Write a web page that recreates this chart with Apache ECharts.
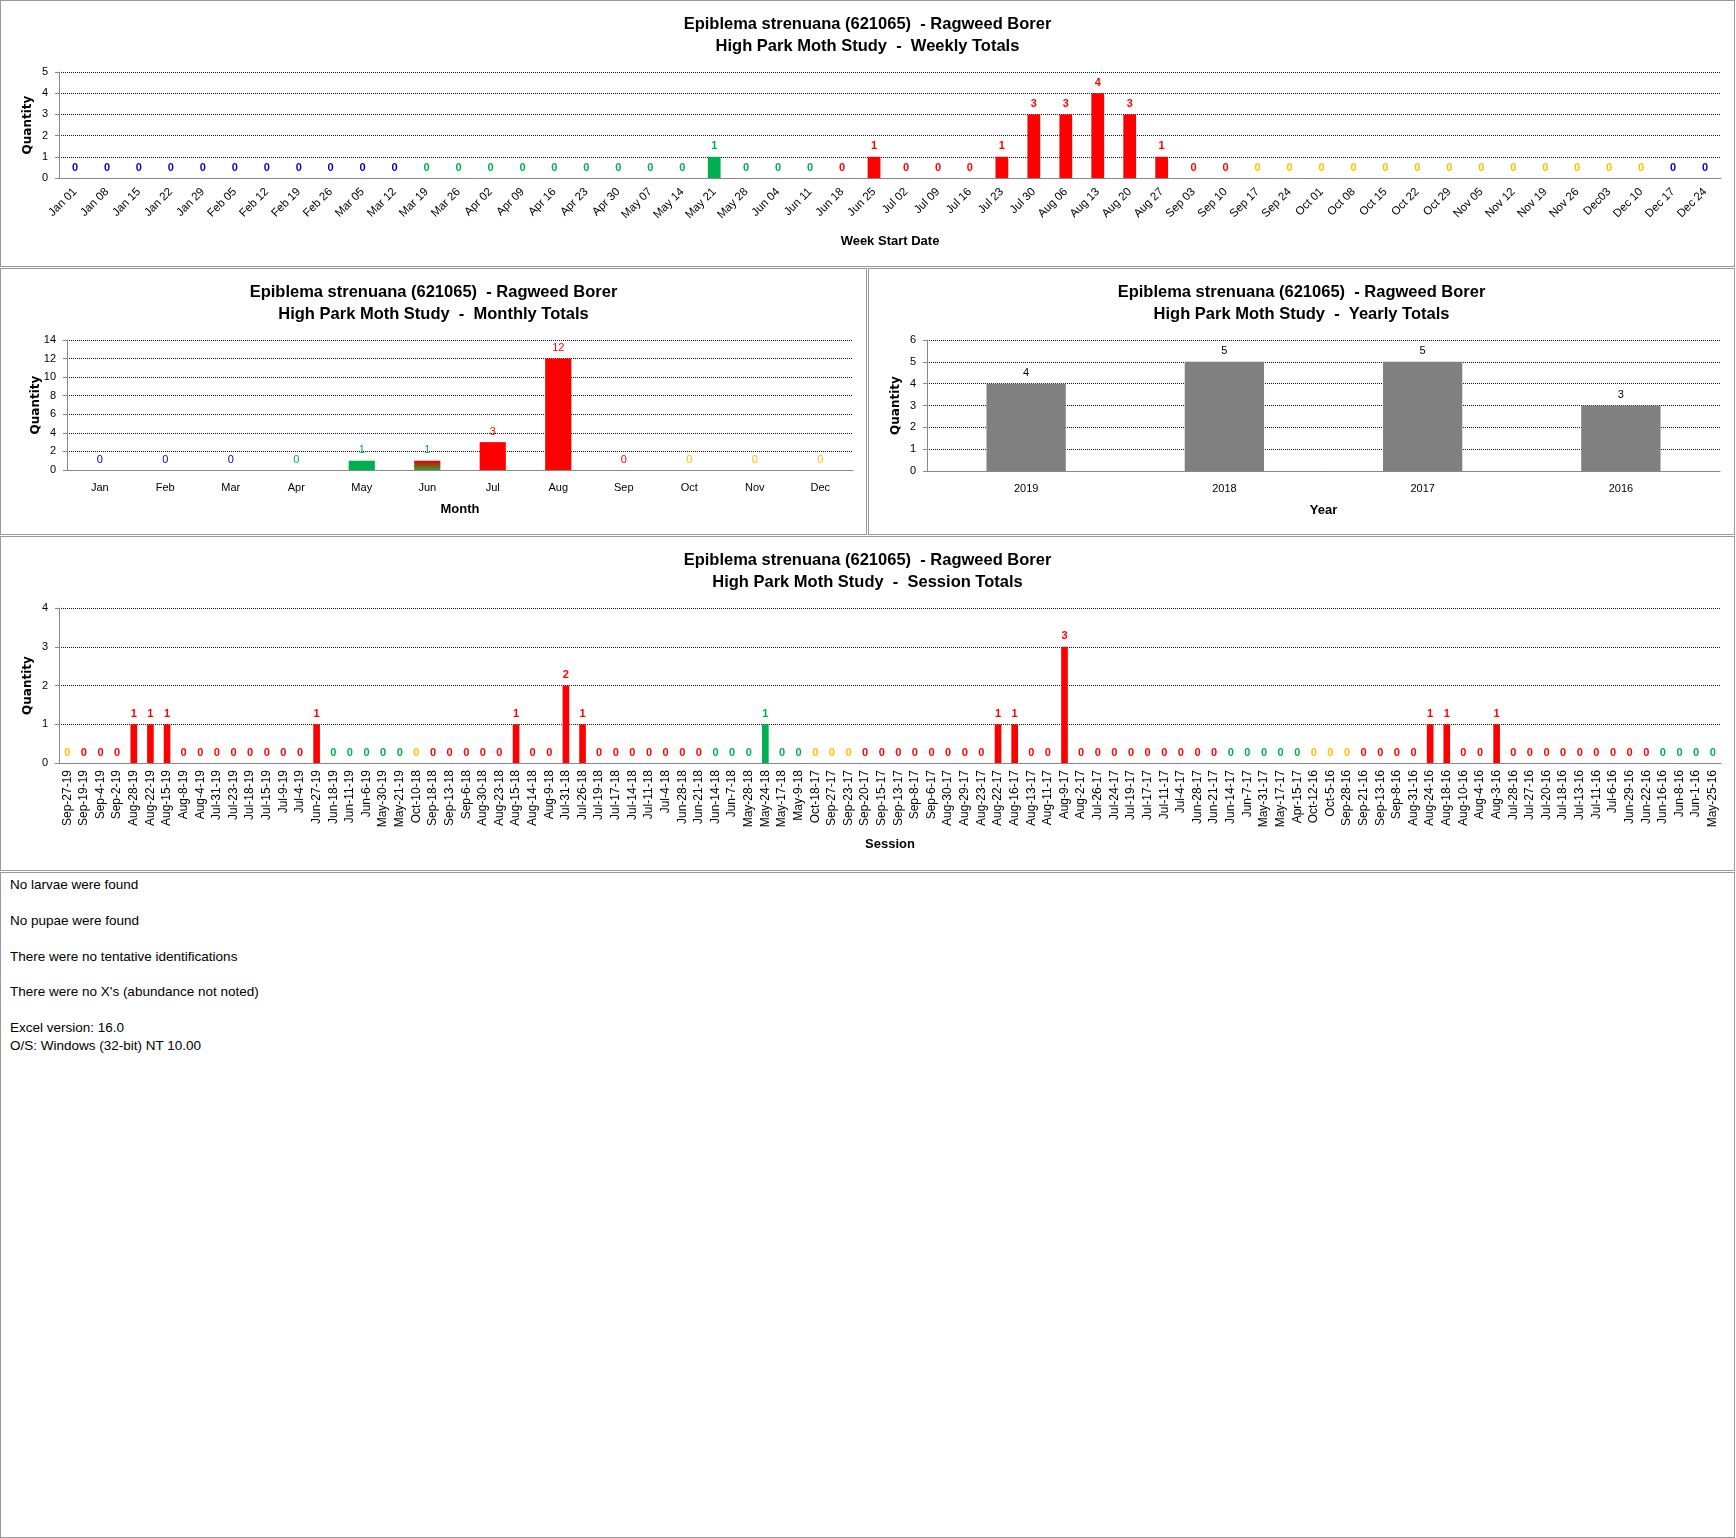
<!DOCTYPE html>
<html>
<head>
<meta charset="utf-8">
<title>Epiblema strenuana - Ragweed Borer</title>
<script src="https://cdn.jsdelivr.net/npm/echarts@6/dist/echarts.min.js"></script>
<style>
  body { margin: 0; background: #fff; }
  #page { position: relative; width: 1736px; height: 1538px; }
  .panel { position: absolute; box-sizing: border-box; border: 1px solid #999; background: #fff; }
  #notes { font: 13.5px 'Liberation Sans', Arial, sans-serif; color: #000; padding: 3px 0 0 9px; line-height: 17.9px; }
</style>
</head>
<body>
<div id="page">
  <div class="panel" id="weekly" style="left:0;top:0;width:1735px;height:267px"></div>
  <div class="panel" id="monthly" style="left:0;top:268px;width:867px;height:267px"></div>
  <div class="panel" id="yearly" style="left:868px;top:268px;width:867px;height:267px"></div>
  <div class="panel" id="session" style="left:0;top:536px;width:1735px;height:335px"></div>
  <div class="panel" id="notes" style="left:0;top:872px;width:1735px;height:666px">
    <div>No larvae were found</div><div>&nbsp;</div>
    <div>No pupae were found</div><div>&nbsp;</div>
    <div>There were no tentative identifications</div><div>&nbsp;</div>
    <div>There were no X's (abundance not noted)</div><div>&nbsp;</div>
    <div>Excel version: 16.0</div>
    <div>O/S: Windows (32-bit) NT 10.00</div>
  </div>
</div>
<script>
// ---- data ----
const TITLE = 'Epiblema strenuana (621065)  - Ragweed Borer';

// season codes: W winter, P spring, S summer, F fall
const weekLabels = ['Jan 01','Jan 08','Jan 15','Jan 22','Jan 29','Feb 05','Feb 12','Feb 19','Feb 26','Mar 05','Mar 12',
  'Mar 19','Mar 26','Apr 02','Apr 09','Apr 16','Apr 23','Apr 30','May 07','May 14','May 21','May 28','Jun 04','Jun 11',
  'Jun 18','Jun 25','Jul 02','Jul 09','Jul 16','Jul 23','Jul 30','Aug 06','Aug 13','Aug 20','Aug 27','Sep 03','Sep 10',
  'Sep 17','Sep 24','Oct 01','Oct 08','Oct 15','Oct 22','Oct 29','Nov 05','Nov 12','Nov 19','Nov 26','Dec03','Dec 10',
  'Dec 17','Dec 24'];
const weekValues = [0,0,0,0,0,0,0,0,0,0,0,
  0,0,0,0,0,0,0,0,0,1,0,0,0,
  0,1,0,0,0,1,3,3,4,3,1,0,0,
  0,0,0,0,0,0,0,0,0,0,0,0,0,
  0,0];
const weekSeason = ['W','W','W','W','W','W','W','W','W','W','W',
  'P','P','P','P','P','P','P','P','P','P','P','P','P',
  'S','S','S','S','S','S','S','S','S','S','S','S','S',
  'F','F','F','F','F','F','F','F','F','F','F','F','F',
  'W','W'];

const monthLabels = ['Jan','Feb','Mar','Apr','May','Jun','Jul','Aug','Sep','Oct','Nov','Dec'];
const monthValues = [0,0,0,0,1,1,3,12,0,0,0,0];
const monthSeason = ['W','W','W','P','P','P','S','S','S','F','F','F'];
const monthBarSeason = ['W','W','W','P','P','PS','S','S','S','F','F','F'];

const yearLabels = ['2019','2018','2017','2016'];
const yearValues = [4,5,5,3];

const sessionLabels = [
  'Sep-27-19','Sep-19-19','Sep-4-19','Sep-2-19','Aug-28-19','Aug-22-19','Aug-15-19','Aug-8-19','Aug-4-19','Jul-31-19',
  'Jul-23-19','Jul-18-19','Jul-15-19','Jul-9-19','Jul-4-19','Jun-27-19','Jun-18-19','Jun-11-19','Jun-6-19','May-30-19',
  'May-21-19',
  'Oct-10-18','Sep-18-18','Sep-13-18','Sep-6-18','Aug-30-18','Aug-23-18','Aug-15-18','Aug-14-18','Aug-9-18','Jul-31-18',
  'Jul-26-18','Jul-19-18','Jul-17-18','Jul-14-18','Jul-11-18','Jul-4-18','Jun-28-18','Jun-21-18','Jun-14-18','Jun-7-18',
  'May-28-18','May-24-18','May-17-18','May-9-18',
  'Oct-18-17','Sep-27-17','Sep-23-17','Sep-20-17','Sep-15-17','Sep-13-17','Sep-8-17','Sep-6-17','Aug-30-17','Aug-29-17',
  'Aug-23-17','Aug-22-17','Aug-16-17','Aug-13-17','Aug-11-17','Aug-9-17','Aug-2-17','Jul-26-17','Jul-24-17','Jul-19-17',
  'Jul-17-17','Jul-11-17','Jul-4-17','Jun-28-17','Jun-21-17','Jun-14-17','Jun-7-17','May-31-17','May-17-17','Apr-15-17',
  'Oct-12-16','Oct-5-16','Sep-28-16','Sep-21-16','Sep-13-16','Sep-8-16','Aug-31-16','Aug-24-16','Aug-18-16','Aug-10-16',
  'Aug-4-16','Aug-3-16','Jul-28-16','Jul-27-16','Jul-20-16','Jul-18-16','Jul-13-16','Jul-11-16','Jul-6-16','Jun-29-16',
  'Jun-22-16','Jun-16-16','Jun-8-16','Jun-1-16','May-25-16'];
const sessionValues = [
  0,0,0,0,1,1,1,0,0,0, 0,0,0,0,0,1,0,0,0,0, 0,
  0,0,0,0,0,0,1,0,0,2, 1,0,0,0,0,0,0,0,0,0, 0,1,0,0,
  0,0,0,0,0,0,0,0,0,0, 0,1,1,0,0,3,0,0,0,0, 0,0,0,0,0,0,0,0,0,0,
  0,0,0,0,0,0,0,1,1,0, 0,1,0,0,0,0,0,0,0,0, 0,0,0,0,0];
const sessionSeason = [
  'F','S','S','S','S','S','S','S','S','S', 'S','S','S','S','S','S','P','P','P','P', 'P',
  'F','S','S','S','S','S','S','S','S','S', 'S','S','S','S','S','S','S','S','P','P', 'P','P','P','P',
  'F','F','F','S','S','S','S','S','S','S', 'S','S','S','S','S','S','S','S','S','S', 'S','S','S','S','S','P','P','P','P','P',
  'F','F','F','S','S','S','S','S','S','S', 'S','S','S','S','S','S','S','S','S','S', 'S','P','P','P','P'];

// ---- style ----
const FONT = "'Liberation Sans', Arial, sans-serif";
const GREEN = '#00B050', RED = '#FF0000', GOLD = '#FFC000';
const fills = {
  W: '#0000FF', P: GREEN, S: RED, F: GOLD,
  PS: new echarts.graphic.LinearGradient(0, 0, 0, 1, [
    { offset: 0, color: '#E00000' }, { offset: 1, color: '#3A9E32' },
  ]),
};
const inks = { W: '#0000CC', P: GREEN, S: RED, F: GOLD };

function seasonBars(values, seasons, barSeasons) {
  return values.map((v, i) => ({
    value: v,
    itemStyle: { color: fills[barSeasons[i]] },
    label: { color: inks[seasons[i]] },
  }));
}

function panelOption(o) {
  return {
    animation: false,
    title: {
      text: TITLE + '\nHigh Park Moth Study  -  ' + o.title,
      left: 'center', top: 7,
      textStyle: { fontFamily: FONT, fontSize: 16.5, fontWeight: 'bold', color: '#000', lineHeight: 22.5 },
    },
    grid: Object.assign({ containLabel: false, outerBoundsMode: 'none' }, o.grid),
    xAxis: {
      type: 'category', data: o.cats,
      name: o.xName, nameLocation: 'middle', nameGap: o.xNameGap, nameMoveOverlap: false,
      nameTextStyle: { fontFamily: FONT, fontSize: 13, fontWeight: 'bold', color: '#000' },
      axisLine: { lineStyle: { color: '#888' } },
      axisTick: { length: 5, lineStyle: { color: '#888' } },
      axisLabel: { interval: 0, rotate: o.rotate || 0, margin: o.labelMargin, hideOverlap: false,
        fontFamily: FONT, fontSize: o.labelSize || 11, color: '#000' },
    },
    yAxis: {
      type: 'value', min: 0, max: o.max, interval: o.step,
      name: 'Quantity', nameLocation: 'middle', nameGap: 25, nameMoveOverlap: false,
      nameTextStyle: { fontFamily: 'DejaVu Sans', fontSize: 12, fontWeight: 'bold', color: '#000' },
      axisLine: { show: true, lineStyle: { color: '#888' } },
      axisTick: { show: true, length: 4, lineStyle: { color: '#888' } },
      axisLabel: { margin: 11, fontFamily: FONT, fontSize: 11, color: '#000' },
      splitLine: { lineStyle: { color: '#111', type: 'dotted' } },
    },
    series: [{
      type: 'bar', barWidth: '40%', data: o.data,
      label: { show: true, position: 'top', distance: 5, fontFamily: FONT, fontSize: 11,
        fontWeight: o.labelWeight || 'bold' },
    }],
  };
}

const weekly = echarts.init(document.getElementById('weekly'));
weekly.setOption(panelOption({
  title: 'Weekly Totals', cats: weekLabels, max: 5, step: 1,
  grid: { left: 58, right: 13, top: 71, bottom: 88 },
  xName: 'Week Start Date', xNameGap: 57, rotate: 45, labelMargin: 12, labelSize: 11.5,
  data: seasonBars(weekValues, weekSeason, weekSeason),
}));

const monthly = echarts.init(document.getElementById('monthly'));
monthly.setOption(panelOption({
  title: 'Monthly Totals', cats: monthLabels, max: 14, step: 2,
  grid: { left: 66, right: 13, top: 71, bottom: 64 },
  xName: 'Month', xNameGap: 33, labelMargin: 12, labelWeight: 'normal',
  data: seasonBars(monthValues, monthSeason, monthBarSeason),
}));

const yearly = echarts.init(document.getElementById('yearly'));
yearly.setOption(panelOption({
  title: 'Yearly Totals', cats: yearLabels, max: 6, step: 1,
  grid: { left: 58, right: 14, top: 71, bottom: 63 },
  xName: 'Year', xNameGap: 33, labelMargin: 12, labelWeight: 'normal',
  data: yearValues.map((v) => ({ value: v, itemStyle: { color: '#808080' }, label: { color: '#000' } })),
}));

const session = echarts.init(document.getElementById('session'));
session.setOption(panelOption({
  title: 'Session Totals', cats: sessionLabels, max: 4, step: 1,
  grid: { left: 58, right: 13, top: 71, bottom: 107 },
  xName: 'Session', xNameGap: 75, rotate: 90, labelMargin: 7, labelSize: 12,
  data: seasonBars(sessionValues, sessionSeason, sessionSeason),
}));
</script>
</body>
</html>
